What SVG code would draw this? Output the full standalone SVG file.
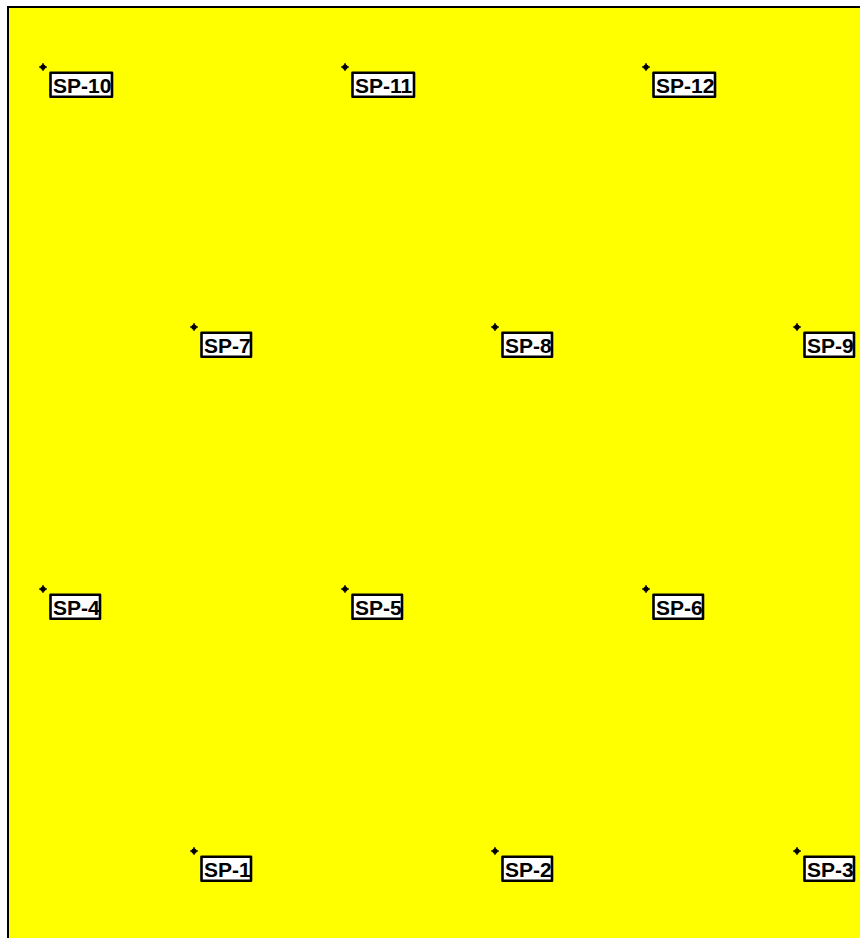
<svg xmlns="http://www.w3.org/2000/svg" width="860" height="938" viewBox="0 0 860 938">
<style>
.bg{fill:#ffff00;stroke:#000;stroke-width:2}
.box{fill:#fff;stroke:#000;stroke-width:2.6;stroke-linejoin:round}
.lbl{font-family:"Liberation Sans",Arial,sans-serif;font-weight:bold;font-size:21px;fill:#000}
.mk{fill:#000}
</style>
<defs>
<g id="mark"><circle r="2.6" class="mk"/><path d="M-3.8 0H3.8M0 -3.8V3.8" stroke="#000" stroke-width="1.6"/></g>
</defs>
<rect class="bg" x="8" y="7" width="900" height="1000"/>
<g id="sp10" transform="translate(43,67)"><use href="#mark"/><rect class="box" x="7.5" y="5.8" width="61.5" height="24"/><text class="lbl" x="10" y="26">SP-10</text></g>
<g id="sp11" transform="translate(345,67)"><use href="#mark"/><rect class="box" x="7.5" y="5.8" width="61.5" height="24"/><text class="lbl" x="10" y="26">SP-11</text></g>
<g id="sp12" transform="translate(646,67)"><use href="#mark"/><rect class="box" x="7.5" y="5.8" width="61.5" height="24"/><text class="lbl" x="10" y="26">SP-12</text></g>
<g id="sp7" transform="translate(194,327)"><use href="#mark"/><rect class="box" x="7.5" y="5.8" width="49.5" height="24"/><text class="lbl" x="10" y="26">SP-7</text></g>
<g id="sp8" transform="translate(495,327)"><use href="#mark"/><rect class="box" x="7.5" y="5.8" width="49.5" height="24"/><text class="lbl" x="10" y="26">SP-8</text></g>
<g id="sp9" transform="translate(797,327)"><use href="#mark"/><rect class="box" x="7.5" y="5.8" width="49.5" height="24"/><text class="lbl" x="10" y="26">SP-9</text></g>
<g id="sp4" transform="translate(43,589)"><use href="#mark"/><rect class="box" x="7.5" y="5.8" width="49.5" height="24"/><text class="lbl" x="10" y="26">SP-4</text></g>
<g id="sp5" transform="translate(345,589)"><use href="#mark"/><rect class="box" x="7.5" y="5.8" width="49.5" height="24"/><text class="lbl" x="10" y="26">SP-5</text></g>
<g id="sp6" transform="translate(646,589)"><use href="#mark"/><rect class="box" x="7.5" y="5.8" width="49.5" height="24"/><text class="lbl" x="10" y="26">SP-6</text></g>
<g id="sp1" transform="translate(194,851)"><use href="#mark"/><rect class="box" x="7.5" y="5.8" width="49.5" height="24"/><text class="lbl" x="10" y="26">SP-1</text></g>
<g id="sp2" transform="translate(495,851)"><use href="#mark"/><rect class="box" x="7.5" y="5.8" width="49.5" height="24"/><text class="lbl" x="10" y="26">SP-2</text></g>
<g id="sp3" transform="translate(797,851)"><use href="#mark"/><rect class="box" x="7.5" y="5.8" width="49.5" height="24"/><text class="lbl" x="10" y="26">SP-3</text></g>
<g id="connectors"/>
</svg>
